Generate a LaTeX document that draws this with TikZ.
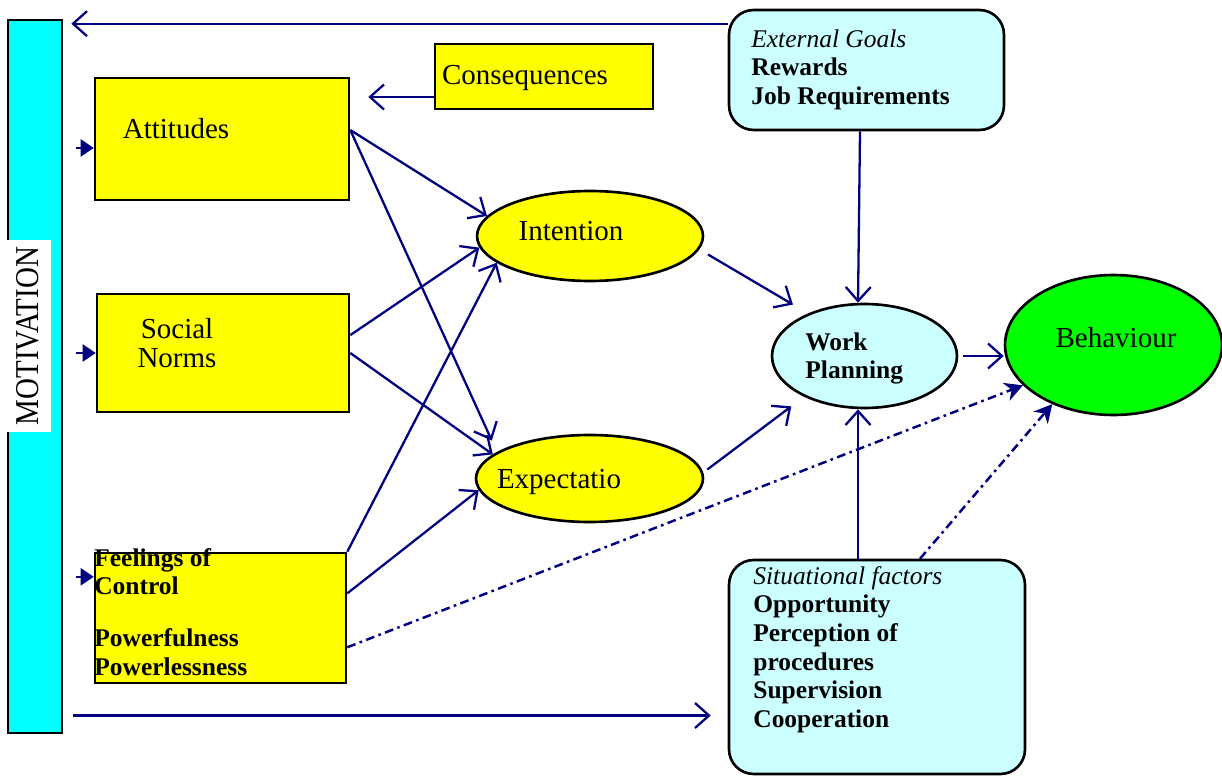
\documentclass[tikz,border=0pt]{standalone}
\usepackage{fontspec}
\setmainfont{Liberation Serif}
\usetikzlibrary{arrows.meta,shapes.geometric}
\definecolor{arrnavy}{RGB}{0,0,128}
\definecolor{boxyellow}{RGB}{255,255,0}
\definecolor{barcyan}{RGB}{0,255,255}
\definecolor{palecyan}{RGB}{204,255,255}
\definecolor{behgreen}{RGB}{0,255,0}
\tikzset{
  ybox/.style={draw,fill=boxyellow,line width=1.5pt,inner sep=0pt},
  yoval/.style={ellipse,draw,fill=boxyellow,line width=1.5pt,inner sep=0pt},
  cbox/.style={draw,fill=palecyan,rounded corners=14pt,line width=1.5pt,inner sep=0pt},
  txt/.style={font=\fontsize{16.5}{16.5}\selectfont,inner sep=0pt},
  btxt/.style={font=\bfseries\fontsize{14.5}{16.3}\selectfont,align=left,inner sep=0pt,anchor=north west},
  flow/.style={-{Straight Barb[length=2.8mm,width=5mm,line width=1.3pt]},line width=1.3pt,arrnavy},
  tipin/.style={-{Triangle[length=2.6mm,width=3.4mm]},line width=1.3pt,arrnavy},
  dashflow/.style={-{Stealth[length=3.6mm,width=3.8mm]},line width=1.4pt,arrnavy,
                   dash pattern=on 5pt off 2.5pt on 1.5pt off 2.5pt}
}

\begin{document}
\begin{tikzpicture}[x=0.02cm,y=-0.02cm]
  \useasboundingbox (0,0) rectangle (1222,776);
  \node[draw,fill=barcyan,line width=1.5pt,minimum width=1.08cm,minimum height=14.26cm] (mot) at (35,376.5) {};
  \node[fill=white,rotate=90,minimum width=3.84cm,minimum height=0.8cm,txt,yscale=1.15] (motlbl) at (28,336) {MOTIVATION};
  \node[ybox,minimum width=5.08cm,minimum height=2.44cm] (att) at (222,139) {};
  \node[ybox,minimum width=4.36cm,minimum height=1.3cm] (con) at (544,76.5) {};
  \node[ybox,minimum width=5.04cm,minimum height=2.36cm] (sn) at (223,353) {};
  \node[ybox,minimum width=5.02cm,minimum height=2.6cm] (fc) at (220.5,618) {};
  \node[yoval,minimum width=4.52cm,minimum height=1.8cm] (int) at (590,236) {};
  \node[yoval,minimum width=4.54cm,minimum height=1.74cm] (exp) at (589.5,478.5) {};
  \node[ellipse,draw,fill=palecyan,line width=1.5pt,inner sep=0pt,minimum width=3.7cm,minimum height=2.08cm] (wp) at (864.5,356) {};
  \node[ellipse,draw,fill=behgreen,line width=1.5pt,inner sep=0pt,minimum width=4.34cm,minimum height=2.8cm] (beh) at (1113.5,345) {};
  \node[cbox,minimum width=5.5cm,minimum height=2.4cm] (eg) at (866.5,70) {};
  \node[cbox,minimum width=5.92cm,minimum height=4.28cm] (st) at (877,667) {};

  \node[txt,anchor=base] (attt) at (176,139) {Attitudes};
  \node[txt,anchor=base] (cont) at (525,85) {Consequences};
  \node[txt,align=center,anchor=north] (snt) at (177,318) {Social\\Norms};
  \node[txt,anchor=base] (intt) at (571,241) {Intention};
  \node[txt,anchor=base] (expt) at (559,488) {Expectatio};
  \node[txt,anchor=base] (beht) at (1116,348) {Behaviour};
  \node[btxt] (fct) at (94,548) {Feelings of\\Control\\[13pt]Powerfulness\\Powerlessness};
  \node[btxt] (wpt) at (805,332) {Work\\Planning};
  \node[btxt] (egt) at (751,29) {{\mdseries\itshape External Goals}\\Rewards\\Job Requirements};
  \node[btxt] (stt) at (753,566) {{\mdseries\itshape Situational factors}\\Opportunity\\Perception of\\procedures\\Supervision\\Cooperation};

  \coordinate (wpb) at ([xshift=-0.13cm]wp.south);
  \draw[flow] (att.4)--(int.169);\draw[flow,shorten >=0.25cm] (att.4)--(exp.164);
  \draw[flow] (sn.8)--(int.186);\draw[flow] (sn.east)--(exp.166);
  \draw[flow] (fc.north east)--(int.196);\draw[flow] (fc.11)--(exp.186);
  \draw[flow,shorten <=0.2cm,shorten >=0.35cm] (int.-7)--(wp.143);
  \draw[flow,shorten <=0.1cm,shorten >=0.32cm] (exp.3)--(wp.214);
  \draw[flow] ([xshift=-0.13cm]eg.south)--([xshift=-0.13cm]wp.north);
  \draw[flow] (st.north -| wpb)--(wpb);
  \draw[flow,shorten <=0.1cm] (wp.east)--(wp.east -| beh.west);
  \draw[flow,shorten >=0.16cm] ([yshift=-0.3cm]eg.north west)--([yshift=-0.3cm]eg.north west -| mot.east);
  \draw[flow,shorten <=0.2cm,shorten >=0.34cm] (mot.east |- st.198)--(st.198);
  \draw[flow,shorten >=0.36cm] (con.west |- 0,97)--(att.north east |- 0,97);
  \draw[tipin,shorten <=0.26cm] (mot.east |- att.184)--(att.184);
  \draw[tipin,shorten <=0.26cm] (mot.east |- sn.west)--(sn.west);
  \draw[tipin,shorten <=0.26cm] (mot.east |- fc.162)--(fc.162);
  \draw[dashflow] (fc.-13)--(beh.204);
  \draw[dashflow] ([xshift=0.86cm]st.north)--(beh.224);
\end{tikzpicture}
\end{document}
